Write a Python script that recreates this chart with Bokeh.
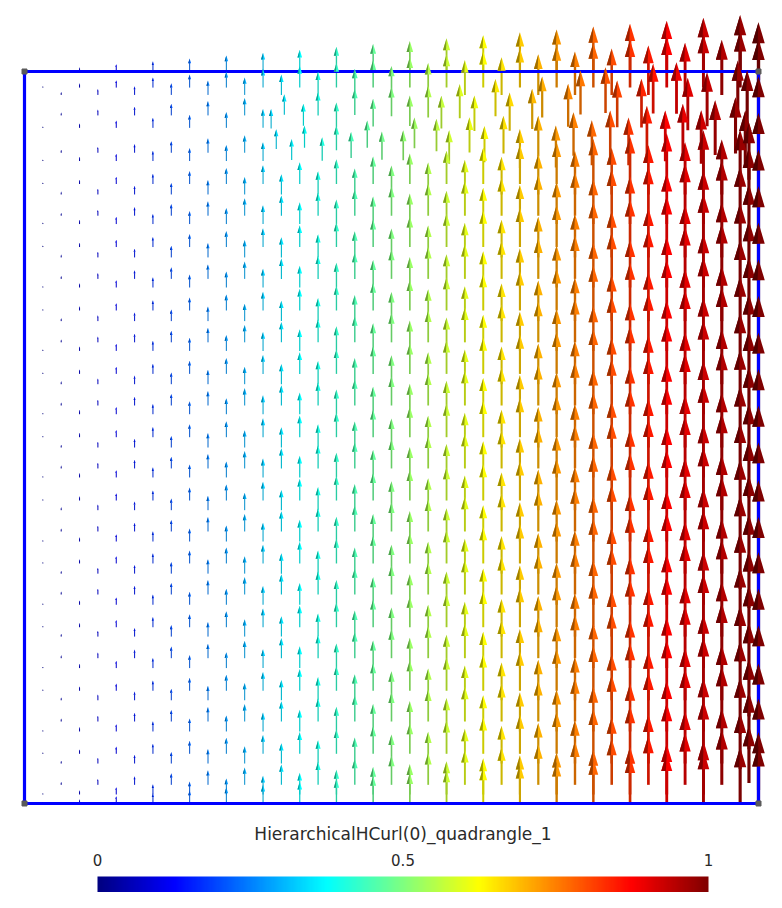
import numpy as np
from bokeh.plotting import figure
from bokeh.models import ColumnDataSource, Range1d
from bokeh.core.properties import value
from bokeh.embed import file_html
from bokeh.resources import INLINE

# ---------------- data ----------------
TITLE = "HierarchicalHCurl(0)_quadrangle_1"
tick_values = [0.0, 0.5, 1.0]
tick_labels = ["0", "0.5", "1"]
c_min, c_max = 0.0, 1.0

# sample columns (x positions of the glyph points)
x_even_cols = [0.05, 0.10, 0.15, 0.20, 0.25, 0.30, 0.35, 0.40, 0.45, 0.50,
               0.55, 0.60, 0.65, 0.70, 0.75, 0.80, 0.85, 0.90, 0.95]
x_odd_cols = [0.025, 0.075, 0.125, 0.175, 0.225, 0.275, 0.325, 0.375, 0.425,
              0.475, 0.525, 0.575, 0.625, 0.675, 0.725, 0.775, 0.825, 0.875,
              0.925]
# y positions of the points (arrow tails) in those columns
y_even = [0.0255, 0.0546, 0.112, 0.141, 0.1985, 0.228, 0.2855, 0.314, 0.3716,
          0.4007, 0.4577, 0.4863, 0.5437, 0.5728, 0.630, 0.659, 0.7167, 0.746,
          0.803, 0.832]
y_odd = [0.0, 0.0123, 0.0679, 0.0984, 0.154, 0.185, 0.2408, 0.2715, 0.3279,
         0.3579, 0.4139, 0.4454, 0.5004, 0.5318, 0.5869, 0.6183, 0.6735, 0.7049,
         0.7602, 0.7916, 0.8463]
# upper rows of the left columns (x < 0.33)
y_even_upper_left = [0.889, 0.940, 0.968]
y_odd_upper_left = [0.8777, 0.923]
# top rows of every column
y_even_top = [0.968]
y_odd_top = [0.978, 1.0]
# irregular band near the top, x > 0.33
band_x = [0.343, 0.3815, 0.425, 0.467, 0.5313, 0.5613, 0.6063, 0.6526,
          0.364, 0.4056, 0.445, 0.487, 0.516, 0.5786, 0.6267,
          0.675, 0.70, 0.724, 0.748, 0.773, 0.798, 0.823, 0.848, 0.873, 0.897,
          0.922, 0.941, 0.9687, 0.982,
          0.354, 0.40, 0.45, 0.50, 0.55, 0.593, 0.6417, 0.7053, 0.7575, 0.7916,
          0.8565, 0.8883, 0.9718,
          0.336, 0.38, 0.425, 0.475, 0.525, 0.568, 0.613, 0.661, 0.6917, 0.7407,
          0.8075, 0.8406, 0.9037, 0.930, 0.9846]
band_y = [0.894, 0.896, 0.8925, 0.896, 0.895, 0.891, 0.8895, 0.888,
          0.879, 0.878, 0.882, 0.8795, 0.8787, 0.874, 0.876,
          0.868, 0.884, 0.869, 0.885, 0.872, 0.8835, 0.872, 0.886, 0.8775, 0.885,
          0.874, 0.886, 0.888, 0.869,
          0.941, 0.940, 0.9407, 0.939, 0.937, 0.936, 0.939, 0.9373, 0.9414, 0.9432,
          0.9426, 0.9423, 0.938,
          0.922, 0.926, 0.924, 0.925, 0.9256, 0.922, 0.9186, 0.919, 0.9216, 0.9245,
          0.9237, 0.9234, 0.9198, 0.9253, 0.9233]
# columns close to the right edge
x_edge_cols = [0.975, 0.987, 1.0]
y_edge_cols = [
    [0.0, 0.047, 0.095, 0.145, 0.193, 0.2455, 0.293, 0.343, 0.393, 0.443,
     0.493, 0.543, 0.593, 0.643, 0.693, 0.743, 0.793, 0.843, 0.978, 1.0],
    [0.028, 0.074, 0.119, 0.169, 0.2195, 0.267, 0.317, 0.370, 0.418, 0.468,
     0.518, 0.568, 0.618, 0.668, 0.718, 0.768, 0.818, 0.852],
    [0.0, 0.018, 0.064, 0.112, 0.164, 0.214, 0.264, 0.312, 0.362, 0.414,
     0.464, 0.514, 0.564, 0.614, 0.664, 0.714, 0.764, 0.814, 0.864, 0.914,
     0.965, 0.988],
]

# ---------------- build the point set ----------------
pts_x, pts_y = [], []
for cx in x_even_cols:
    ys = y_even + (y_even_upper_left if cx < 0.33 else y_even_top)
    for cy in ys:
        pts_x.append(cx); pts_y.append(cy)
for cx in x_odd_cols:
    ys = y_odd + (y_odd_upper_left if cx < 0.33 else []) + y_odd_top
    for cy in ys:
        pts_x.append(cx); pts_y.append(cy)
pts_x += band_x
pts_y += band_y
for cx, ys in zip(x_edge_cols, y_edge_cols):
    for cy in ys:
        pts_x.append(cx); pts_y.append(cy)
px = np.array(pts_x)
py = np.array(pts_y)

# the plotted field: basis function 1 of HCurl(0) on the quadrangle, (0, x)
u = np.zeros_like(px)
v = px.copy()
mag = np.hypot(u, v)


def jet(t):
    t = np.clip(t, 0, 1)
    r = np.clip(1.5 - np.abs(4 * t - 3), 0, 1)
    g = np.clip(1.5 - np.abs(4 * t - 2), 0, 1)
    b = np.clip(1.5 - np.abs(4 * t - 1), 0, 1)
    return r, g, b


def to_hex(r, g, b, f=1.0):
    return ["#%02x%02x%02x" % (int(255 * min(1, a * f)), int(255 * min(1, bb * f)),
                                int(255 * min(1, c * f))) for a, bb, c in zip(r, g, b)]


tnorm = (mag - c_min) / (c_max - c_min)
r, g, b = jet(tnorm)
col_base = to_hex(r, g, b, 1.0)
col_dark = to_hex(r, g, b, 0.62)
col_shaft = to_hex(r, g, b, 0.8)

# ---------------- figure ----------------
W, H = 766, 892
XPX, YPX = 734.0, 732.0          # pixels per data unit
X0PX, Y0PX = 24.0, 803.0         # where (0, 0) sits inside the canvas
x_lo, x_hi = -X0PX / XPX, (W - X0PX) / XPX
y_lo, y_hi = (Y0PX - H) / YPX, Y0PX / YPX

p = figure(width=W, height=H, x_range=Range1d(x_lo, x_hi), y_range=Range1d(y_lo, y_hi),
           output_backend="svg", toolbar_location=None, min_border=0)
p.min_border_left = p.min_border_right = p.min_border_top = p.min_border_bottom = 0
p.axis.visible = False
p.grid.visible = False
p.outline_line_color = None
p.background_fill_color = "white"
p.border_fill_color = "white"

# arrow glyph geometry (VTK style arrow: shaft then conical tip)
SCALE_PX = 58.0                  # glyph length in px for |v| = 1
TIP_LEN, TIP_RAD = 0.36, 0.108
Lx = u * SCALE_PX / XPX
Ly = v * SCALE_PX / YPX
Lpx = mag * SCALE_PX
base_x = px + (1 - TIP_LEN) * Lx
base_y = py + (1 - TIP_LEN) * Ly
tip_x = px + Lx
tip_y = py + Ly
hw = TIP_RAD * Lpx / XPX

shaft = ColumnDataSource(dict(x0=px, y0=py, x1=base_x + 0.02 * Lx, y1=base_y + 0.02 * Ly,
                              c=col_shaft, lw=np.maximum(0.055 * Lpx, 1.0)))
p.segment("x0", "y0", "x1", "y1", source=shaft, line_color="c", line_width="lw")

# quadrangle edges and vertices
p.line([0, 1, 1, 0, 0], [0, 0, 1, 1, 0], line_color="#0000ff", line_width=3.2,
       line_join="miter")
p.scatter([0, 1, 1, 0], [0, 0, 1, 1], marker="square", size=5, color="#5a5a5a")

cone_full = ColumnDataSource(dict(
    xs=[[bx - h, bx + h, tx] for bx, h, tx in zip(base_x, hw, tip_x)],
    ys=[[by, by, ty] for by, ty in zip(base_y, tip_y)],
    c=col_base))
p.patches("xs", "ys", source=cone_full, fill_color="c", line_color=None)
cone_left = ColumnDataSource(dict(
    xs=[[bx - h, bx - 0.15 * h, tx] for bx, h, tx in zip(base_x, hw, tip_x)],
    ys=[[by, by, ty] for by, ty in zip(base_y, tip_y)],
    c=col_dark))
p.patches("xs", "ys", source=cone_left, fill_color="c", line_color=None)

# ---------------- scalar bar ----------------
cb_x0, cb_x1 = (97 - X0PX) / XPX, (708 - X0PX) / XPX
cb_y_top, cb_y_bot = (Y0PX - 876) / YPX, (Y0PX - 892) / YPX
n = 256
cr, cg, cbb = jet((np.arange(n) + 0.5) / n)
img = np.empty((1, n), dtype=np.uint32)
view = img.view(dtype=np.uint8).reshape((1, n, 4))
view[0, :, 0] = (cr * 255).astype(np.uint8)
view[0, :, 1] = (cg * 255).astype(np.uint8)
view[0, :, 2] = (cbb * 255).astype(np.uint8)
view[0, :, 3] = 255
p.image_rgba(image=[img], x=cb_x0, y=cb_y_bot, dw=cb_x1 - cb_x0, dh=cb_y_top - cb_y_bot)

tick_x = [cb_x0 + (t - c_min) / (c_max - c_min) * (cb_x1 - cb_x0) for t in tick_values]
p.text(x=tick_x, y=[(Y0PX - 859) / YPX] * len(tick_x), text=tick_labels,
       text_align="center", text_baseline="middle", text_font=value("DejaVu Sans"),
       text_font_size="15px", text_color="#2a2a2a")
p.text(x=[(cb_x0 + cb_x1) / 2], y=[(Y0PX - 833) / YPX], text=[TITLE],
       text_align="center", text_baseline="middle", text_font=value("DejaVu Sans"),
       text_font_size="17px", text_color="#2a2a2a")

open("out.html", "w").write(file_html(p, INLINE))
